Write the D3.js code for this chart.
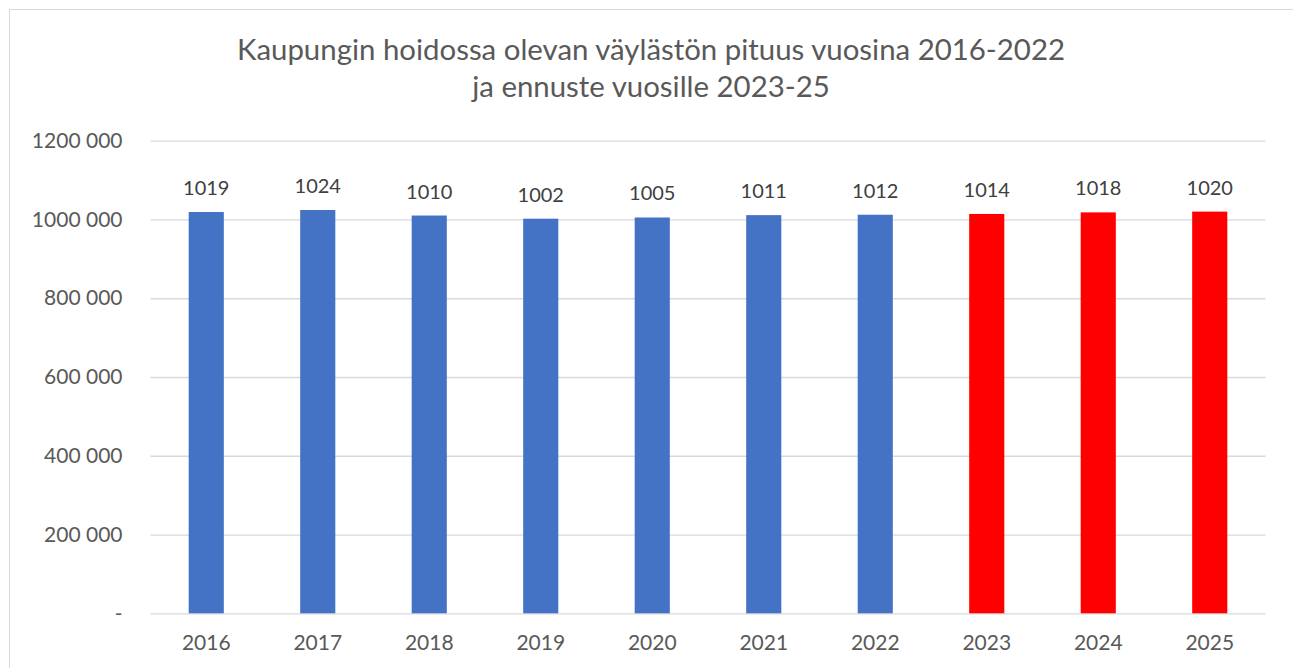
<!DOCTYPE html>
<html>
<head>
<meta charset="utf-8">
<script src="https://cdn.jsdelivr.net/npm/d3@7"></script>
<style>
  html, body { margin: 0; padding: 0; background: #fff; }
  svg { display: block; font-family: Lato, "Open Sans", sans-serif; }
</style>
</head>
<body>
<svg id="chart" width="1293" height="668"></svg>
<script>
// chart data
const years = ["2016", "2017", "2018", "2019", "2020", "2021", "2022", "2023", "2024", "2025"];
const lengths = [1019000, 1024000, 1010000, 1002000, 1005000, 1011000, 1012000, 1014000, 1018000, 1020000];
const forecastYears = ["2023", "2024", "2025"];
const yTicks = [0, 200000, 400000, 600000, 800000, 1000000, 1200000];
const titleLines = ["Kaupungin hoidossa olevan väylästön pituus vuosina 2016-2022", "ja ennuste vuosille 2023-25"];

const svg = d3.select("#chart");
const margin = {left: 150.5, right: 27.5, top: 140.7, bottom: 54.7};
const width = +svg.attr("width");
const height = +svg.attr("height");

// outer chart border (runs off the right and bottom of the picture)
svg.append("rect")
    .attr("x", 9.5).attr("y", 9.5)
    .attr("width", 1290).attr("height", 700)
    .attr("fill", "none")
    .attr("stroke", "#d9d9d9");

const title = svg.append("text")
    .attr("text-anchor", "middle")
    .attr("fill", "#595959")
    .style("font-size", "29.4px");
titleLines.forEach((line, i) => {
    title.append("tspan").attr("x", 651).attr("y", 60 + i * 37).text(line);
});

const x = d3.scaleBand()
    .domain(years)
    .range([margin.left, width - margin.right])
    .paddingInner(0.685)
    .paddingOuter(0.3425);

const y = d3.scaleLinear()
    .domain([0, 1200000])
    .range([height - margin.bottom, margin.top]);

const fmt = v => v === 0 ? "-" : d3.format(",")(v).replace(/,/g, " ").replace(/^(\d) (\d{3}) /, "$1$2 ");

// gridlines + y labels
const yAxis = d3.axisLeft(y)
    .tickValues(yTicks)
    .tickSize(-(width - margin.left - margin.right))
    .tickPadding(28)
    .tickFormat(fmt);

const gy = svg.append("g")
    .attr("transform", `translate(${margin.left},0)`)
    .call(yAxis)
    .attr("font-family", null)
    .attr("font-size", null);
gy.select(".domain").remove();
gy.selectAll(".tick line").attr("stroke", "#d9d9d9").attr("stroke-width", 1.3);
gy.selectAll(".tick text")
    .attr("fill", "#595959")
    .style("font-size", "21px");

// x labels
const xAxis = d3.axisBottom(x).tickSize(0).tickPadding(22);
const gx = svg.append("g")
    .attr("transform", `translate(0,${height - margin.bottom})`)
    .call(xAxis)
    .attr("font-family", null)
    .attr("font-size", null);
gx.select(".domain").remove();
gx.selectAll(".tick text")
    .attr("fill", "#595959")
    .style("font-size", "21px");

// bars
svg.append("g")
    .selectAll("rect")
    .data(years)
    .join("rect")
    .attr("x", d => x(d))
    .attr("y", (d, i) => y(lengths[i]))
    .attr("width", x.bandwidth())
    .attr("height", (d, i) => y(0) - y(lengths[i]))
    .attr("fill", d => forecastYears.includes(d) ? "#ff0000" : "#4472c4");

// value labels
svg.append("g")
    .selectAll("text")
    .data(years)
    .join("text")
    .attr("x", d => x(d) + x.bandwidth() / 2)
    .attr("y", (d, i) => y(lengths[i]) - 17)
    .attr("text-anchor", "middle")
    .attr("fill", "#404040")
    .style("font-size", "20px")
    .text((d, i) => Math.round(lengths[i] / 1000));
</script>
</body>
</html>
